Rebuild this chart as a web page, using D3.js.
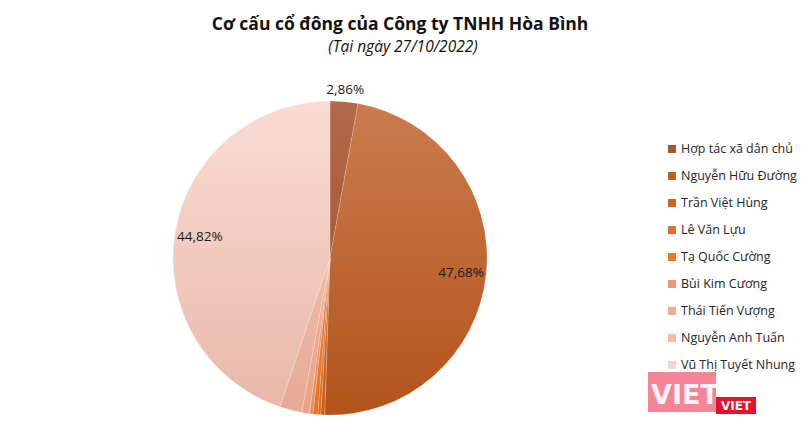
<!DOCTYPE html>
<html><head><meta charset="utf-8">
<script src="https://cdn.jsdelivr.net/npm/d3@7"></script>
<style>body{margin:0;background:#fff}svg{display:block}</style>
</head><body>
<svg id="c" width="810" height="425"></svg>
<script>
const categories = ["Hợp tác xã dân chủ","Nguyễn Hữu Đường","Trần Việt Hùng","Lê Văn Lựu","Tạ Quốc Cường","Bùi Kim Cương","Thái Tiến Vượng","Nguyễn Anh Tuấn","Vũ Thị Tuyết Nhung"];
const values = [2.86, 47.68, 0.4, 0.3, 0.5, 0.34, 0.8, 2.3, 44.82];
const shownLabels = ["2,86%","47,68%","","","","","","","44,82%"];
const colors    = ["#a5552e","#bd5e22","#d0651f","#e0702a","#f07a24","#ee9572","#f2ab90","#efbcac","#f7d5cc"];
const topColors = ["#b26a4a","#ca7b4f","#d87b42","#e98a4a","#f59052","#f3aa8a","#f6c0a8","#f5cbbd","#fadcd3"];
const botColors = ["#9e4a22","#b2541a","#c65e1c","#d86a20","#ea7222","#e68a64","#eaa286","#e6aa96","#e8b8a8"];
const title = "Cơ cấu cổ đông của Công ty TNHH Hòa Bình";
const subtitle = "(Tại ngày 27/10/2022)";

const svg = d3.select("#c");
const font = "'Open Sans', 'Noto Sans', sans-serif";
const cx = 330, cy = 258, r = 157;

svg.append("text").attr("x",400).attr("y",30).attr("text-anchor","middle")
  .attr("font-family",font).attr("font-weight","bold").attr("font-size",17.5).attr("fill","#111").text(title);
svg.append("text").attr("x",403).attr("y",52).attr("text-anchor","middle")
  .attr("font-family",font).attr("font-style","italic").attr("font-size",15.5).attr("fill","#111").text(subtitle);

const defs = svg.append("defs");
colors.forEach((c,i)=>{
  const g = defs.append("linearGradient").attr("id","g"+i).attr("gradientUnits","userSpaceOnUse")
    .attr("x1",0).attr("y1",-r).attr("x2",0).attr("y2",r);
  g.append("stop").attr("offset","0%").attr("stop-color",topColors[i]);
  g.append("stop").attr("offset","100%").attr("stop-color",botColors[i]);
});

const pie = d3.pie().sort(null).value(d=>d)(values);
const arc = d3.arc().innerRadius(0).outerRadius(r);
const gp = svg.append("g").attr("transform",`translate(${cx},${cy})`);
gp.selectAll("path").data(pie).join("path")
  .attr("d",arc).attr("fill",(d,i)=>`url(#g${i})`)
  .attr("stroke","rgba(255,255,255,0.3)").attr("stroke-width",0.6);

// data labels
const labelArc = d3.arc().innerRadius(r*0.84).outerRadius(r*0.84);
const outArc = d3.arc().innerRadius(r+12).outerRadius(r+12);
pie.forEach((d,i)=>{
  if(!shownLabels[i]) return;
  const p = values[i] < 5 ? outArc.centroid(d) : labelArc.centroid(d);
  gp.append("text").attr("x",p[0]).attr("y",p[1]).attr("dy","0.35em").attr("text-anchor","middle")
    .attr("font-family",font).attr("font-size",13.5).attr("fill","#1a1a1a").text(shownLabels[i]);
});

// legend
const lg = svg.append("g").attr("transform","translate(668,149)");
categories.forEach((c,i)=>{
  const row = lg.append("g").attr("transform",`translate(0,${i*27})`);
  row.append("rect").attr("x",0).attr("y",-4).attr("width",8).attr("height",8).attr("fill",colors[i]);
  row.append("text").attr("x",13).attr("y",0).attr("dy","0.35em")
    .attr("font-family",font).attr("font-size",12.5).attr("fill","#262626").text(c);
});

// watermark logo (approximation)
const wm = svg.append("g");
wm.append("rect").attr("x",648).attr("y",372).attr("width",68).attr("height",40).attr("fill","#f0506a").attr("opacity",0.7);
wm.append("text").attr("x",651).attr("y",404).attr("font-family","'DejaVu Sans', sans-serif").attr("font-weight","bold")
  .attr("font-size",27).attr("fill","#fff").attr("opacity",0.9).text("VIET");
wm.append("rect").attr("x",716).attr("y",397).attr("width",40).attr("height",17).attr("fill","#e8102a");
wm.append("text").attr("x",736).attr("y",410).attr("text-anchor","middle").attr("font-family","'DejaVu Sans', sans-serif")
  .attr("font-weight","bold").attr("font-size",12).attr("fill","#fff").text("VIET");
</script>
</body></html>
